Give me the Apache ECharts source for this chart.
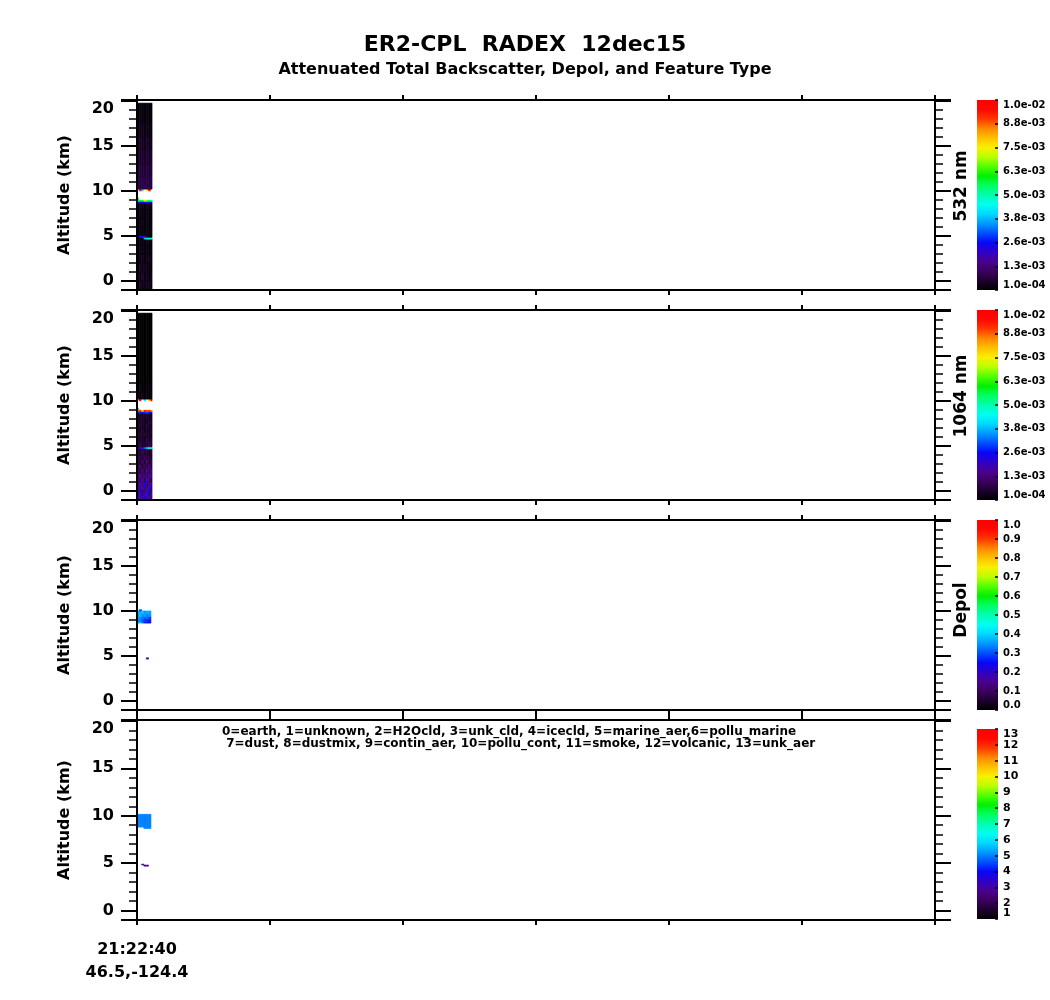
<!DOCTYPE html>
<html><head><meta charset="utf-8">
<script src="https://cdn.jsdelivr.net/npm/echarts@6/dist/echarts.min.js"></script>
<style>html,body{margin:0;padding:0;background:#fff}#chart{width:1050px;height:1000px}</style>
</head><body><div id="chart"></div>
<script>
// ---- data (time in seconds after 21:22:40, altitude in km) ----
const profileEdges = [0, 10, 21, 31, 42, 52, 63, 68];

// rows: [altBottom, altTop, value per profile column]
const bsc532 = [
  [-1.0, 0.0, 3e-4, 5e-4, 2e-4, 4e-4, 3e-4, 5e-4, 3e-4],
  [0.0, 1.0, 4e-4, 2e-4, 6e-4, 3e-4, 4e-4, 2e-4, 4e-4],
  [1.0, 2.0, 2e-4, 4e-4, 3e-4, 5e-4, 2e-4, 3e-4, 2e-4],
  [2.0, 3.0, 3e-4, 2e-4, 4e-4, 2e-4, 3e-4, 4e-4, 3e-4],
  [3.0, 4.0, 2e-4, 3e-4, 2e-4, 3e-4, 2e-4, 2e-4, 3e-4],
  [4.0, 4.65, 3e-4, 2e-4, 3e-4, 2e-4, 3e-4, 3e-4, 2e-4],
  [4.65, 4.85, 3e-4, 3e-4, 3e-4, 3.8e-3, 4.4e-3, 4.9e-3, 4.6e-3],
  [4.85, 5.05, 3e-4, 2.3e-3, 2.7e-3, 1.8e-3, 4e-4, 3e-4, 3e-4],
  [5.05, 6.0, 2e-4, 3e-4, 2e-4, 3e-4, 2e-4, 2e-4, 3e-4],
  [6.0, 7.0, 3e-4, 2e-4, 3e-4, 2e-4, 3e-4, 2e-4, 2e-4],
  [7.0, 8.0, 2e-4, 3e-4, 2e-4, 2e-4, 2e-4, 3e-4, 2e-4],
  [8.0, 8.65, 3e-4, 4e-4, 3e-4, 3e-4, 4e-4, 3e-4, 3e-4],
  [8.65, 8.85, 2.2e-3, 2.6e-3, 2.4e-3, 2.5e-3, 2.7e-3, 2.4e-3, 2.3e-3],
  [8.85, 9.05, 4.4e-3, 5.8e-3, 6.2e-3, 7.2e-3, 6.6e-3, 5.4e-3, 4.9e-3],
  [9.05, 9.3, 6.2e-3, 1.5e-2, 1.5e-2, 1.5e-2, 1.5e-2, 1.5e-2, 1.5e-2],
  [9.3, 10.0, 1.5e-2, 1.5e-2, 1.5e-2, 1.5e-2, 1.5e-2, 1.5e-2, 1.5e-2],
  [10.0, 10.2, 1.5e-2, 9.6e-3, 4.2e-3, 1.5e-2, 7.6e-3, 9.8e-3, 1.5e-2],
  [10.2, 11.5, 8e-4, 7e-4, 8e-4, 8e-4, 7e-4, 8e-4, 8e-4],
  [11.5, 13.0, 7e-4, 7e-4, 6e-4, 7e-4, 7e-4, 6e-4, 7e-4],
  [13.0, 14.5, 6e-4, 5e-4, 6e-4, 5e-4, 6e-4, 5e-4, 6e-4],
  [14.5, 16.0, 4e-4, 5e-4, 4e-4, 4e-4, 5e-4, 4e-4, 4e-4],
  [16.0, 17.5, 3e-4, 3e-4, 4e-4, 3e-4, 3e-4, 3e-4, 3e-4],
  [17.5, 19.75, 2e-4, 2e-4, 2e-4, 2e-4, 2e-4, 2e-4, 2e-4]
];

const bsc1064 = [
  [-1.0, -0.5, 2.6e-3, 1.5e-3, 1.2e-3, 2.2e-3, 1.4e-3, 1.8e-3, 1.3e-3],
  [-0.5, 0.0, 1.3e-3, 2.4e-3, 1.0e-3, 1.6e-3, 2.6e-3, 1.1e-3, 1.7e-3],
  [0.0, 0.5, 1.6e-3, 1.1e-3, 2.0e-3, 1.2e-3, 1.4e-3, 2.4e-3, 1.0e-3],
  [0.5, 1.0, 1.0e-3, 1.8e-3, 1.3e-3, 2.6e-3, 1.0e-3, 1.5e-3, 1.9e-3],
  [1.0, 1.5, 1.4e-3, 0.9e-3, 1.6e-3, 1.0e-3, 1.9e-3, 1.2e-3, 0.9e-3],
  [1.5, 2.0, 0.8e-3, 1.5e-3, 1.0e-3, 1.4e-3, 0.9e-3, 1.7e-3, 1.2e-3],
  [2.0, 2.5, 1.2e-3, 0.7e-3, 1.3e-3, 0.8e-3, 1.5e-3, 0.9e-3, 1.4e-3],
  [2.5, 3.0, 0.7e-3, 1.2e-3, 0.6e-3, 1.1e-3, 0.7e-3, 1.3e-3, 0.8e-3],
  [3.0, 3.5, 1.0e-3, 0.6e-3, 1.1e-3, 0.7e-3, 1.2e-3, 0.6e-3, 1.0e-3],
  [3.5, 4.0, 0.6e-3, 0.9e-3, 0.5e-3, 1.0e-3, 0.6e-3, 0.8e-3, 0.6e-3],
  [4.0, 4.7, 0.8e-3, 0.5e-3, 0.9e-3, 0.6e-3, 0.7e-3, 0.5e-3, 0.8e-3],
  [4.7, 4.9, 0.6e-3, 2.0e-3, 2.6e-3, 3.2e-3, 4.0e-3, 4.6e-3, 4.4e-3],
  [4.9, 5.5, 0.5e-3, 0.8e-3, 0.4e-3, 0.7e-3, 0.5e-3, 0.9e-3, 0.6e-3],
  [5.5, 6.0, 0.7e-3, 0.4e-3, 0.6e-3, 0.4e-3, 0.8e-3, 0.5e-3, 0.7e-3],
  [6.0, 6.5, 0.4e-3, 0.6e-3, 0.5e-3, 0.7e-3, 0.4e-3, 0.6e-3, 0.4e-3],
  [6.5, 7.0, 0.6e-3, 0.4e-3, 0.7e-3, 0.4e-3, 0.5e-3, 0.4e-3, 0.6e-3],
  [7.0, 7.5, 0.4e-3, 0.6e-3, 0.4e-3, 0.5e-3, 0.6e-3, 0.5e-3, 0.4e-3],
  [7.5, 8.0, 0.5e-3, 0.4e-3, 0.6e-3, 0.4e-3, 0.4e-3, 0.6e-3, 0.5e-3],
  [8.0, 8.65, 0.4e-3, 0.5e-3, 0.4e-3, 0.6e-3, 0.5e-3, 0.4e-3, 0.5e-3],
  [8.65, 8.85, 2.4e-3, 2.8e-3, 2.6e-3, 2.9e-3, 3.0e-3, 2.7e-3, 2.6e-3],
  [8.85, 9.05, 8.6e-3, 9.2e-3, 7.6e-3, 9.4e-3, 8.8e-3, 9.0e-3, 8.4e-3],
  [9.05, 9.3, 6.0e-3, 1.5e-2, 1.5e-2, 1.5e-2, 1.5e-2, 1.5e-2, 1.5e-2],
  [9.3, 10.0, 1.5e-2, 1.5e-2, 1.5e-2, 1.5e-2, 1.5e-2, 1.5e-2, 1.5e-2],
  [10.0, 10.2, 1.5e-2, 9.8e-3, 1.5e-2, 4.4e-3, 1.5e-2, 8.0e-3, 9.6e-3],
  [10.2, 11.0, 3e-4, 1e-4, 4e-4, 2e-4, 3e-4, 1e-4, 3e-4],
  [11.0, 12.0, 1e-4, 3e-4, 1e-4, 2e-4, 1e-4, 3e-4, 1e-4],
  [12.0, 19.75, 1e-4, 1e-4, 1e-4, 1e-4, 1e-4, 1e-4, 1e-4]
];

const depolRatio = [
  [4.65, 4.8, null, null, null, null, 0.12, null, null],
  [8.65, 8.8, 0.36, 0.39, 0.33, 0.27, 0.25, 0.24, null],
  [8.8, 9.1, 0.33, 0.34, 0.31, 0.28, 0.27, 0.26, null],
  [9.1, 9.4, 0.37, 0.34, 0.33, 0.31, 0.32, 0.29, null],
  [9.4, 9.7, 0.35, 0.38, 0.34, 0.36, 0.33, 0.35, null],
  [9.7, 10.0, 0.38, 0.36, 0.39, 0.35, 0.37, 0.36, null],
  [10.0, 10.15, null, 0.30, null, null, null, null, null]
];

const featureType = [
  [4.68, 4.8, null, null, null, 3, 3, null, null],
  [4.8, 4.9, null, null, 3, null, null, null, null],
  [8.65, 8.8, null, null, null, 5, 5, 5, null],
  [8.8, 10.15, 5, 5, 5, 5, 5, 5, null]
];

const altitudeTicks = [0, 5, 10, 15, 20];
const timeLabels = ['21:22:40'];
const latLonLabels = ['46.5,-124.4'];
const cb532Labels = ['1.0e-04', '1.3e-03', '2.6e-03', '3.8e-03', '5.0e-03', '6.3e-03', '7.5e-03', '8.8e-03', '1.0e-02'];
const cb1064Labels = ['1.0e-04', '1.3e-03', '2.6e-03', '3.8e-03', '5.0e-03', '6.3e-03', '7.5e-03', '8.8e-03', '1.0e-02'];
const depolLabels = ['0.0', '0.1', '0.2', '0.3', '0.4', '0.5', '0.6', '0.7', '0.8', '0.9', '1.0'];
const featureLabels = ['1', '2', '3', '4', '5', '6', '7', '8', '9', '10', '11', '12', '13'];
const panelNames = ['532 nm', '1064 nm', 'Depol'];
const featureLegend = [
  '0=earth, 1=unknown, 2=H2Ocld, 3=unk_cld, 4=icecld, 5=marine_aer,6=pollu_marine',
  ' 7=dust, 8=dustmix, 9=contin_aer, 10=pollu_cont, 11=smoke, 12=volcanic, 13=unk_aer'
];
const titleText = 'ER2-CPL  RADEX  12dec15';
const subtitleText = 'Attenuated Total Backscatter, Depol, and Feature Type';

const rainbow = ['#000000', '#1e0030', '#3c0060', '#4a0090', '#3000c8', '#0808f8', '#0050ff', '#0098ff',
  '#00d8ff', '#00fff0', '#00ffb0', '#00ff60', '#00f000', '#50ff00', '#b8ff00', '#f8f000', '#ffc000',
  '#ff8800', '#ff3800', '#ff0800', '#ff0000'];

// ---- build ----
const FONT = '"DejaVu Sans"';
function toCells(rows) {
  const out = [];
  rows.forEach(function (r) {
    for (let c = 0; c < profileEdges.length - 1; c++) {
      const v = r[2 + c];
      if (v === null || v === undefined) continue;
      out.push([profileEdges[c], profileEdges[c + 1], r[0], r[1], v]);
    }
  });
  return out;
}
function cellRenderer(vmax) {
  return function (params, api) {
    const a = api.coord([api.value(0), api.value(3)]);
    const b = api.coord([api.value(1), api.value(2)]);
    const v = api.value(4);
    const fill = v > vmax ? '#ffffff' : api.visual('color');
    return { type: 'rect', shape: { x: a[0], y: a[1], width: b[0] - a[0], height: b[1] - a[1] },
      style: { fill: fill, stroke: fill, lineWidth: 0.6 } };
  };
}
function colorbarRenderer(params, api) {
  const a = api.coord([api.value(0), api.value(3)]);
  const b = api.coord([api.value(1), api.value(2)]);
  const stops = rainbow.map(function (c, i) { return { offset: i / (rainbow.length - 1), color: c }; });
  return { type: 'rect', shape: { x: a[0], y: a[1], width: b[0] - a[0], height: b[1] - a[1] },
    style: { fill: new echarts.graphic.LinearGradient(0, 1, 0, 0, stops) } };
}

const panels = [
  { top: 100, height: 190, cbTop: 100, cbHeight: 190, rows: bsc532, vmin: 1e-4, vmax: 1e-2, cbMin: 0, cbMax: 8, cbLabels: cb532Labels, cbFont: 10, nameY: 186 },
  { top: 310, height: 190, cbTop: 310, cbHeight: 190, rows: bsc1064, vmin: 1e-4, vmax: 1e-2, cbMin: 0, cbMax: 8, cbLabels: cb1064Labels, cbFont: 10, nameY: 396 },
  { top: 520, height: 190, cbTop: 520, cbHeight: 190, rows: depolRatio, vmin: 0, vmax: 1, cbMin: 0, cbMax: 10, cbLabels: depolLabels, cbFont: 10, nameY: 610 },
  { top: 720, height: 200, cbTop: 729, cbHeight: 190, rows: featureType, vmin: 1, vmax: 13, cbMin: 1, cbMax: 13, cbLabels: featureLabels, cbFont: 11, nameY: null }
];

const grid = [], xAxis = [], yAxis = [], series = [], visualMap = [], graphic = [];
const black = '#000';
const lblStyle = { color: black, fontFamily: FONT, fontWeight: 'bold' };

panels.forEach(function (p, i) {
  grid.push({ left: 137, right: 115, top: p.top, height: p.height, containLabel: false, outerBoundsMode: 'none' });
});
panels.forEach(function (p, i) {
  grid.push({ left: 977, width: 21, top: p.cbTop, height: p.cbHeight, containLabel: false, outerBoundsMode: 'none' });
});

panels.forEach(function (p, i) {
  const isLast = i === panels.length - 1;
  const xb = xAxis.length;
  ['bottom', 'top'].forEach(function (pos) {
    xAxis.push({
      gridIndex: i, type: 'value', position: pos, min: 0, max: 3600, interval: 600, z: 5,
      axisLine: { show: true, onZero: false, lineStyle: { color: black, width: 2 } },
      axisTick: { show: true, inside: false, length: 5, lineStyle: { color: black, width: 2 } },
      axisLabel: Object.assign({
        show: isLast && pos === 'bottom', margin: 18, fontSize: 16, lineHeight: 23, align: 'center',
        showMinLabel: true,
        formatter: function (v) { return v === 0 ? timeLabels[0] + '\n' + latLonLabels[0] : ''; }
      }, lblStyle),
      splitLine: { show: false }
    });
  });
  const yb = yAxis.length;
  ['left', 'right'].forEach(function (pos) {
    yAxis.push({
      gridIndex: i, type: 'value', position: pos, min: -1, max: 20.1, z: 5,
      axisLine: { show: true, onZero: false, lineStyle: { color: black, width: 2 } },
      axisTick: { show: true, inside: false, length: 16, customValues: [-1, 0, 5, 10, 15, 20, 20.1], lineStyle: { color: black, width: 2 } },
      axisLabel: Object.assign({
        show: pos === 'left', customValues: altitudeTicks, margin: 23, fontSize: 16,
        showMinLabel: true, showMaxLabel: true,
        verticalAlignMaxLabel: 'top', formatter: function (v) { return String(v); }
      }, lblStyle),
      splitLine: { show: false }
    });
    yAxis.push({
      gridIndex: i, type: 'value', position: pos, min: -1, max: 20.1, interval: 1, z: 5,
      axisLine: { show: false, onZero: false },
      axisTick: { show: true, inside: false, length: 8, lineStyle: { color: black, width: 1.5 } },
      axisLabel: { show: false },
      splitLine: { show: false }
    });
  });
  series.push({
    type: 'custom', coordinateSystem: 'cartesian2d', xAxisIndex: xb, yAxisIndex: yb,
    renderItem: cellRenderer(p.vmax), data: toCells(p.rows), clip: true, z: 2,
    encode: { x: [0, 1], y: [2, 3] }, silent: true
  });
  visualMap.push({ type: 'continuous', show: false, seriesIndex: i, dimension: 4, min: p.vmin, max: p.vmax, inRange: { color: rainbow } });
});

panels.forEach(function (p, i) {
  const gi = panels.length + i;
  const xi = xAxis.length;
  xAxis.push({ gridIndex: gi, type: 'value', min: 0, max: 1, show: false });
  const fmt = (function (labels, base) { return function (v) { const s = labels[Math.round(v - base)]; return s === undefined ? '' : s; }; })(p.cbLabels, p.cbMin);
  const interior = p.cbLabels.slice(1, -1).map(function (s, k) { return p.cbMin + k + 1; });
  const yi = yAxis.length;
  // interior labels + ticks
  yAxis.push({
    gridIndex: gi, type: 'value', position: 'right', min: p.cbMin, max: p.cbMax, interval: 1, z: 5,
    axisLine: { show: false, onZero: false },
    axisTick: { show: true, inside: true, length: 3, lineStyle: { color: black, width: 1.5 } },
    axisLabel: Object.assign({
      show: true, margin: 5, fontSize: p.cbFont, customValues: interior,
      showMinLabel: true, showMaxLabel: true, hideOverlap: false, formatter: fmt
    }, lblStyle),
    splitLine: { show: false }
  });
  // end labels, kept inside the bar's height
  yAxis.push({
    gridIndex: gi, type: 'value', position: 'right', min: p.cbMin, max: p.cbMax, z: 5,
    axisLine: { show: false, onZero: false },
    axisTick: { show: false },
    axisLabel: Object.assign({
      show: true, margin: 5, fontSize: p.cbFont, customValues: [p.cbMin, p.cbMax],
      showMinLabel: true, showMaxLabel: true, hideOverlap: false,
      verticalAlignMinLabel: 'bottom', verticalAlignMaxLabel: 'top', formatter: fmt
    }, lblStyle),
    splitLine: { show: false }
  });
  series.push({
    type: 'custom', coordinateSystem: 'cartesian2d', xAxisIndex: xi, yAxisIndex: yi,
    renderItem: colorbarRenderer, data: [[0, 1, p.cbMin, p.cbMax]], z: 1,
    encode: { x: [0, 1], y: [2, 3] }, silent: true
  });
  graphic.push({
    type: 'text', x: 65, y: p.top + p.height / 2, rotation: Math.PI / 2,
    style: { text: 'Altitude (km)', align: 'center', verticalAlign: 'middle', font: 'bold 16px ' + FONT, fill: black }
  });
  if (p.nameY !== null) {
    graphic.push({
      type: 'text', x: 962, y: p.nameY, rotation: Math.PI / 2,
      style: { text: panelNames[i], align: 'center', verticalAlign: 'middle', font: 'bold 17px ' + FONT, fill: black }
    });
  }
});

graphic.push({ type: 'text', x: 525, y: 45, style: { text: titleText, align: 'center', verticalAlign: 'middle', font: 'bold 22px ' + FONT, fill: black } });
graphic.push({ type: 'text', x: 525, y: 70, style: { text: subtitleText, align: 'center', verticalAlign: 'middle', font: 'bold 16px ' + FONT, fill: black } });
featureLegend.forEach(function (t, k) {
  graphic.push({ type: 'text', x: 222, y: 732 + k * 12, style: { text: t, align: 'left', verticalAlign: 'middle', font: 'bold 12px ' + FONT, fill: black } });
});

const chart = echarts.init(document.getElementById('chart'), null, { renderer: 'canvas' });
chart.setOption({
  animation: false,
  backgroundColor: '#ffffff',
  grid: grid, xAxis: xAxis, yAxis: yAxis, series: series, visualMap: visualMap, graphic: graphic
});
</script>
</body></html>
